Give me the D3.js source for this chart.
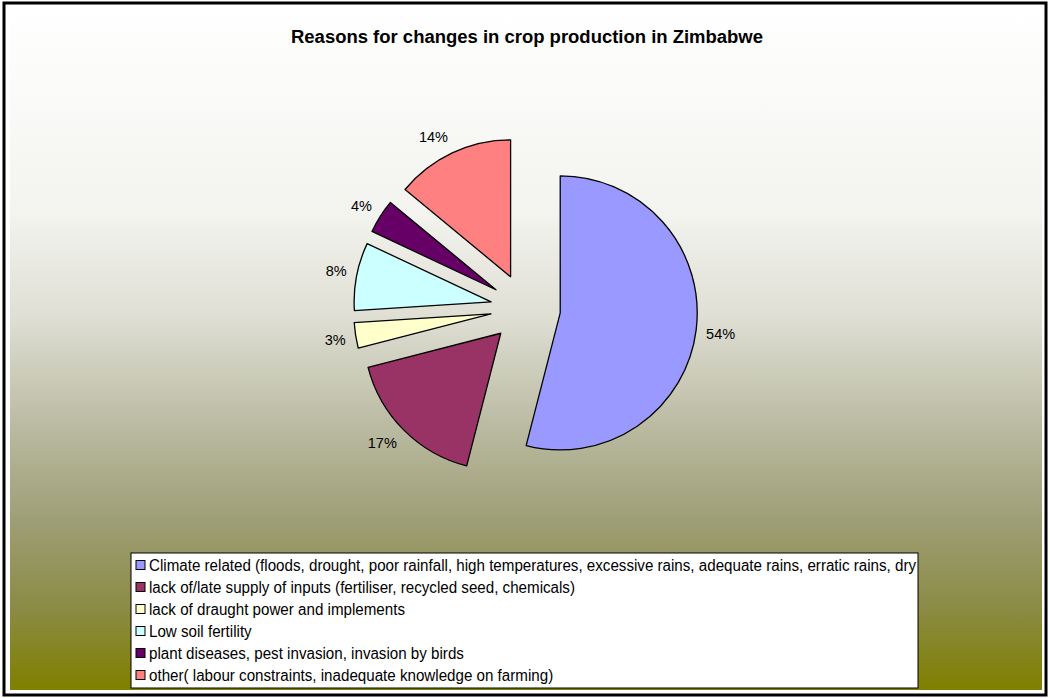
<!DOCTYPE html>
<html>
<head>
<meta charset="utf-8">
<script src="https://cdn.jsdelivr.net/npm/d3@7"></script>
<style>
  body { margin: 0; background: #fff; }
  text { font-family: "Liberation Sans", Arial, sans-serif; }
</style>
</head>
<body>
<div class="chart-container"></div>
<script>
//! DATA
const categories = [
  'Climate related (floods, drought, poor rainfall, high temperatures, excessive rains, adequate rains, erratic rains, dry',
  'lack of/late supply of inputs (fertiliser, recycled seed, chemicals)',
  'lack of draught power and implements',
  'Low soil fertility',
  'plant diseases, pest invasion, invasion by birds',
  'other( labour constraints, inadequate knowledge on farming)'
]
const values = [54, 17, 3, 8, 4, 14]
const colors = ['#9999ff', '#993366', '#ffffcc', '#ccffff', '#660066', '#ff8080']
const title = 'Reasons for changes in crop production in Zimbabwe'

//! CONSTS
const width = 1050
const height = 698
const cx = 525.5, cy = 308.5
const radius = 137
const explode = 35

//! SVG
const svg = d3.select('.chart-container')
  .append('svg')
  .attr('width', width)
  .attr('height', height)

// background gradient
const grad = svg.append('defs')
  .append('linearGradient')
  .attr('id', 'bg')
  .attr('x1', 0).attr('y1', 0).attr('x2', 0).attr('y2', 1)
const stops = [[0, '#ffffff'], [0.3, '#f3f3ef'], [0.45, '#dfdfd4'], [0.6, '#bdbda6'],
  [0.75, '#9e9e76'], [0.88, '#8b8b45'], [1, '#7f7f00']]
grad.selectAll('stop').data(stops).enter().append('stop')
  .attr('offset', d => d[0]).attr('stop-color', d => d[1])

svg.append('rect')
  .attr('x', 4).attr('y', 3).attr('width', 1042).attr('height', 692)
  .attr('fill', '#fff').attr('stroke', '#000').attr('stroke-width', 3)
svg.append('rect')
  .attr('x', 10).attr('y', 10).attr('width', 1032).attr('height', 680)
  .attr('fill', 'url(#bg)')

//! TITLE
svg.append('text')
  .attr('x', 527).attr('y', 43)
  .attr('text-anchor', 'middle')
  .attr('font-size', 17.5)
  .attr('font-weight', 'bold')
  .attr('fill', '#000')
  .attr('textLength', 472)
  .attr('lengthAdjust', 'spacingAndGlyphs')
  .text(title)

//! PIE
const pie = d3.pie().sort(null).value(d => d)
const arcs = pie(values)
const arc = d3.arc().innerRadius(0).outerRadius(radius)
const mid = d => (d.startAngle + d.endAngle) / 2

const offset = d => [Math.sin(mid(d)) * explode, -Math.cos(mid(d)) * explode]

const g = svg.append('g').attr('transform', `translate(${cx},${cy})`)

g.selectAll('path')
  .data(arcs)
  .enter()
  .append('path')
  .attr('d', arc)
  .attr('transform', d => `translate(${offset(d)})`)
  .attr('fill', (d, i) => colors[i])
  .attr('stroke', '#000')
  .attr('stroke-width', 1.3)
  .attr('stroke-linejoin', 'round')

// labels sit just outside the rim, pushed away from it
const labelR = radius + 10
g.selectAll('.lbl')
  .data(arcs)
  .enter()
  .append('text')
  .attr('class', 'lbl')
  .attr('x', d => offset(d)[0] + Math.sin(mid(d)) * labelR)
  .attr('y', d => {
    const c = Math.cos(mid(d))
    return offset(d)[1] - c * labelR - Math.sign(c) * 7 * Math.sqrt(Math.abs(c))
  })
  .attr('text-anchor', d => Math.sin(mid(d)) < 0 ? 'end' : 'start')
  .attr('dy', '0.35em')
  .attr('font-size', 14.5)
  .attr('fill', '#000')
  .text(d => d.value + '%')

//! LEGEND
const lx = 131, ly = 553, lw = 787, lh = 135, rowH = 22
const legend = svg.append('g')
legend.append('rect')
  .attr('x', lx).attr('y', ly).attr('width', lw).attr('height', lh)
  .attr('fill', '#fff').attr('stroke', '#000').attr('stroke-width', 1)

const items = legend.selectAll('.item')
  .data(categories)
  .enter()
  .append('g')
  .attr('class', 'item')
  .attr('transform', (d, i) => `translate(${lx}, ${ly + 12 + i * rowH})`)

items.append('rect')
  .attr('x', 5).attr('y', -4.5).attr('width', 9).attr('height', 9)
  .attr('fill', (d, i) => colors[i])
  .attr('stroke', '#000').attr('stroke-width', 1)

const texts = items.append('text')
  .attr('x', 18).attr('y', 6)
  .attr('font-size', 16)
  .attr('fill', '#000')
  .text(d => d)

// squeeze the labels like the original
const ratio = 767 / texts.node().getComputedTextLength()
texts.each(function () {
  const len = this.getComputedTextLength()
  d3.select(this).attr('textLength', len * ratio).attr('lengthAdjust', 'spacingAndGlyphs')
})
</script>
</body>
</html>
